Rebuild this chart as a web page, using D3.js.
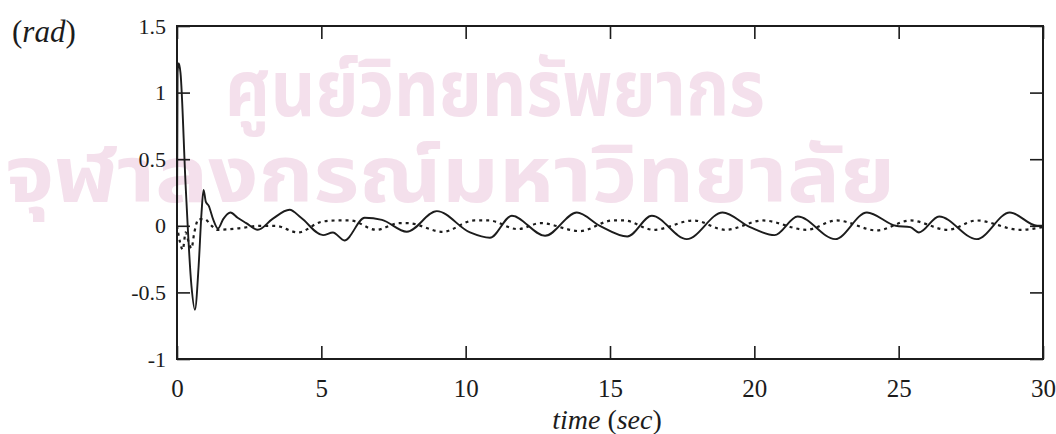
<!DOCTYPE html>
<html>
<head>
<meta charset="utf-8">
<script src="https://cdn.jsdelivr.net/npm/d3@7"></script>
<style>
  html, body { margin: 0; padding: 0; background: #fff; }
  svg { display: block; }
</style>
</head>
<body>
<div id="chart"></div>
<script>
// solid curve: time (sec) / angle (rad)
const solidT = [0, 0.02, 0.06, 0.12, 0.3, 0.5, 0.62, 0.75, 0.85, 0.92, 1.0, 1.1, 1.25, 1.42, 1.6, 1.85, 2.1, 2.4, 2.8, 3.3, 3.9, 4.3, 5.06, 5.4, 5.8, 6.5, 7.1, 7.96, 9.0, 10.15, 10.84, 11.6, 12.75, 13.85, 14.65, 15.6, 16.45, 17.66, 18.9, 19.85, 20.7, 21.5, 22.8, 23.9, 24.9, 25.4, 25.7, 26.4, 27.7, 28.85, 29.8, 30];
const solidY = [0, 1.15, 1.22, 1.15, 0.3, -0.45, -0.63, -0.3, 0.1, 0.27, 0.18, 0.15, 0.05, -0.02, 0.05, 0.1, 0.06, 0.02, -0.03, 0.05, 0.12, 0.06, -0.07, -0.05, -0.11, 0.06, 0.045, -0.045, 0.11, -0.05, -0.09, 0.075, -0.075, 0.1, 0.0, -0.08, 0.075, -0.1, 0.1, -0.01, -0.07, 0.07, -0.1, 0.1, 0.0, -0.01, -0.05, 0.07, -0.1, 0.1, 0.0, 0.0];

// dotted curve
const dotT = [0, 0.1, 0.2, 0.3, 0.4, 0.5, 0.6, 0.75, 0.95, 1.2, 1.4, 2.1, 2.9, 3.4, 4.2, 5.0, 5.5, 6.0, 6.9, 7.7, 8.0, 9.2, 10.3, 10.8, 11.8, 12.6, 13.95, 15.1, 15.5, 16.5, 17.9, 19.0, 20.3, 21.8, 22.85, 24.25, 25.4, 26.7, 27.7, 29.2, 30];
const dotY = [0, -0.12, -0.18, -0.05, -0.12, -0.17, -0.05, 0.05, 0.05, 0.0, -0.03, -0.02, 0.0, 0.0, -0.05, 0.03, 0.04, 0.04, -0.03, 0.02, 0.02, -0.045, 0.04, 0.04, -0.025, 0.02, -0.04, 0.04, 0.04, -0.03, 0.04, -0.03, 0.04, -0.03, 0.04, -0.035, 0.04, -0.03, 0.04, -0.03, -0.01];

const xTicks = [0, 5, 10, 15, 20, 25, 30];
const yTicks = [-1, -0.5, 0, 0.5, 1, 1.5];
const watermark = ['ศูนย์วิทยทรัพยากร', 'จุฬาลงกรณ์มหาวิทยาลัย'];

const width = 1056, height = 434;
const margin = { top: 26, right: 13, bottom: 75, left: 177 };
const w = width - margin.left - margin.right;
const h = height - margin.top - margin.bottom;
const serif = '"Liberation Serif", "DejaVu Serif", serif';
const ink = '#1c1c1c';

const svg = d3.select('#chart').append('svg')
  .attr('width', width)
  .attr('height', height);

// faint library stamp behind the plot
const wm = svg.append('g')
  .style('font-family', '"Noto Sans Thai", "Noto Sans", "DejaVu Sans", sans-serif')
  .style('font-weight', 'bold')
  .style('fill', '#f4e0ec');
wm.append('text')
  .attr('x', 225).attr('y', 116)
  .attr('textLength', 540).attr('lengthAdjust', 'spacingAndGlyphs')
  .style('font-size', '78px')
  .text(watermark[0]);
wm.append('text')
  .attr('x', 5).attr('y', 202)
  .attr('textLength', 890).attr('lengthAdjust', 'spacingAndGlyphs')
  .style('font-size', '78px')
  .text(watermark[1]);

const g = svg.append('g')
  .attr('transform', `translate(${margin.left},${margin.top})`);

const x = d3.scaleLinear().domain([0, 30]).range([0, w]);
const y = d3.scaleLinear().domain([-1, 1.5]).range([h, 0]);

// axes, ticks pointing inward
const fmt = d => d3.format('')(d).replace('−', '-');

const xAxis = g.append('g')
  .attr('transform', `translate(0,${h})`)
  .call(d3.axisBottom(x).tickValues(xTicks).tickSizeInner(-13).tickSizeOuter(0).tickPadding(20).tickFormat(fmt));
xAxis.selectAll('text').style('font-size', '25px');

g.append('g')
  .call(d3.axisTop(x).tickValues(xTicks).tickSizeInner(-13).tickSizeOuter(0).tickFormat(''));

const yAxis = g.append('g')
  .call(d3.axisLeft(y).tickValues(yTicks).tickSizeInner(-13).tickSizeOuter(0).tickPadding(11).tickFormat(fmt));
yAxis.selectAll('text').style('font-size', '22px');

g.append('g')
  .attr('transform', `translate(${w},0)`)
  .call(d3.axisRight(y).tickValues(yTicks).tickSizeInner(-13).tickSizeOuter(0).tickFormat(''));

g.selectAll('.domain').remove();
g.selectAll('.tick line').attr('stroke', ink).attr('stroke-width', 1.6);
g.selectAll('.tick text').style('font-family', serif).attr('fill', ink);

// frame
g.append('rect')
  .attr('width', w).attr('height', h)
  .attr('fill', 'none')
  .attr('stroke', ink)
  .attr('stroke-width', 2);

const line = d3.line()
  .x(d => x(d[0]))
  .y(d => y(d[1]))
  .curve(d3.curveMonotoneX);

g.append('path')
  .datum(dotT.map((t, i) => [t, dotY[i]]))
  .attr('d', line)
  .attr('fill', 'none')
  .attr('stroke', ink)
  .attr('stroke-width', 2.2)
  .attr('stroke-dasharray', '3,4');

g.append('path')
  .datum(solidT.map((t, i) => [t, solidY[i]]))
  .attr('d', line)
  .attr('fill', 'none')
  .attr('stroke', ink)
  .attr('stroke-width', 1.9);

// axis titles
svg.append('text')
  .attr('x', 12).attr('y', 42)
  .style('font-family', serif)
  .style('font-size', '31px')
  .attr('fill', ink)
  .html('(<tspan font-style="italic">rad</tspan>)');

svg.append('text')
  .attr('x', margin.left + x(15) - 3).attr('y', 429)
  .attr('text-anchor', 'middle')
  .style('font-family', serif)
  .style('font-size', '28px')
  .attr('fill', ink)
  .html('<tspan font-style="italic">time</tspan> (<tspan font-style="italic">sec</tspan>)');
</script>
</body>
</html>
